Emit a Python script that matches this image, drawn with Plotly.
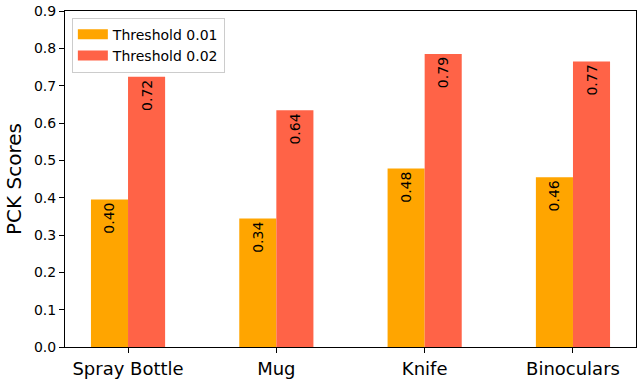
import plotly.graph_objects as go

# ── Data ─────────────────────────────────────────────────────────────────────
categories = ["Spray Bottle", "Mug", "Knife", "Binoculars"]
thr_001 = [0.395, 0.344, 0.478, 0.455]
thr_002 = [0.724, 0.634, 0.785, 0.765]
labels_001 = ["0.40", "0.34", "0.48", "0.46"]
labels_002 = ["0.72", "0.64", "0.79", "0.77"]
series_names = ["Threshold 0.01", "Threshold 0.02"]
y_ticks = [0.0, 0.1, 0.2, 0.3, 0.4, 0.5, 0.6, 0.7, 0.8, 0.9]

FONT = "DejaVu Sans"
COLORS = ["#FFA500", "#FF6347"]

fig = go.Figure()
for name, vals, labels, color in zip(series_names, [thr_001, thr_002],
                                     [labels_001, labels_002], COLORS):
    fig.add_trace(go.Bar(
        x=categories, y=vals, name=name, showlegend=False,
        marker=dict(color=color, line=dict(width=0)),
        text=labels, textposition="inside", insidetextanchor="end",
        textangle=-90, textfont=dict(family=FONT, size=14, color="black"),
    ))
    # legend proxy: wide flat swatch like matplotlib's patch
    fig.add_trace(go.Scatter(
        x=[None], y=[None], mode="lines", name=name,
        line=dict(color=color, width=10),
    ))

axis_common = dict(
    showline=True, linecolor="black", linewidth=1, mirror=True,
    ticks="outside", ticklen=5, tickcolor="black", showgrid=False, zeroline=False,
)

fig.update_layout(
    width=640, height=382,
    margin=dict(l=65, r=3, t=6, b=29),
    plot_bgcolor="white", paper_bgcolor="white",
    font=dict(family=FONT, color="black"),
    barmode="group", bargap=0.5, bargroupgap=0,
    xaxis=dict(range=[-0.425, 3.425], tickfont=dict(size=18), **axis_common),
    yaxis=dict(range=[0, 0.9001], tickmode="array", tickvals=y_ticks,
               ticktext=[f"{v:.1f}" for v in y_ticks],
               tickfont=dict(size=14), ticklabeloverflow="allow",
               title=dict(text="PCK Scores", font=dict(size=20), standoff=6),
               **axis_common),
    legend=dict(x=0.012, y=0.98, xanchor="left", yanchor="top",
                bgcolor="rgba(255,255,255,0.8)", bordercolor="#cccccc", borderwidth=1,
                font=dict(size=14), itemwidth=30, tracegroupgap=0),
)

fig.write_html("out.html", config={"displayModeBar": False},
               post_script="document.body.style.margin='0';")
